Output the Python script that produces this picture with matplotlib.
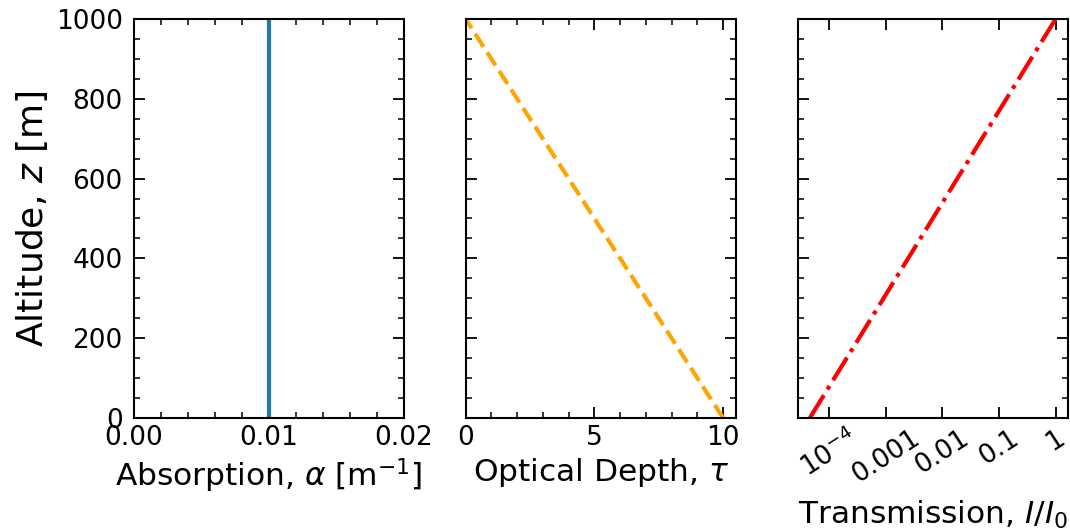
import numpy as np
import matplotlib
matplotlib.use("Agg")
import matplotlib.pyplot as plt
from matplotlib.ticker import AutoMinorLocator, FixedLocator, FixedFormatter, NullLocator

# altitude end points [m] and the profiles
altitude = [0, 1000]
absorption = [0.01, 0.01]          # alpha [1/m]
optical_depth = [10.0, 0.0]        # tau
transmission = [4.54e-5, 1.0]      # I/I0

trans_ticks = [1e-4, 1e-3, 1e-2, 1e-1, 1]
trans_labels = [r"$10^{-4}$", "0.001", "0.01", "0.1", "1"]

plt.rcParams.update({
    "font.size": 19,
    "axes.linewidth": 1.5,
    "xtick.direction": "in",
    "ytick.direction": "in",
    "xtick.top": True,
    "ytick.right": True,
    "xtick.major.size": 8,
    "ytick.major.size": 8,
    "xtick.minor.size": 4,
    "ytick.minor.size": 4,
    "xtick.major.width": 1.3,
    "ytick.major.width": 1.3,
    "xtick.minor.width": 1.1,
    "ytick.minor.width": 1.1,
    "xtick.major.pad": 5,
    "ytick.major.pad": 8,
})

fig, axes = plt.subplots(1, 3, figsize=(10.7, 5.29), dpi=100)
fig.subplots_adjust(left=0.125, right=0.998, top=0.964, bottom=0.21, wspace=0.228)

ax1, ax2, ax3 = axes

ax1.plot(absorption, altitude, color="#1f77b4", lw=3)
ax1.set_xlim(0, 0.02)
ax1.set_xticks([0, 0.01, 0.02])
ax1.set_xticklabels(["0.00", "0.01", "0.02"])
ax1.set_xlabel(r"Absorption, $\alpha$ [m$^{-1}$]", fontsize=22.5)
ax1.set_ylabel(r"Altitude, $z$ [m]", fontsize=26)

ax2.plot(optical_depth, altitude, color="orange", lw=3, ls="--")
ax2.set_xlim(0, 10.5)
ax2.set_xticks([0, 5, 10])
ax2.set_xlabel(r"Optical Depth, $\tau$", fontsize=22.5)

ax3.plot(transmission, altitude, color="red", lw=3, ls="-.")
ax3.set_xscale("log")
ax3.xaxis.set_major_locator(FixedLocator(trans_ticks))
ax3.xaxis.set_major_formatter(FixedFormatter(trans_labels))
ax3.xaxis.set_minor_locator(NullLocator())
for lab in ax3.get_xticklabels():
    lab.set_rotation(33)
ax3.set_xlabel(r"Transmission, $I/I_0$", fontsize=22.5, labelpad=8)

for i, ax in enumerate(axes):
    ax.set_ylim(0, 1000)
    ax.set_yticks([0, 200, 400, 600, 800, 1000])
    ax.yaxis.set_minor_locator(AutoMinorLocator())
    if i < 2:
        ax.xaxis.set_minor_locator(AutoMinorLocator())
    if i > 0:
        ax.set_yticklabels([])

fig.savefig("out.png", dpi=100)
